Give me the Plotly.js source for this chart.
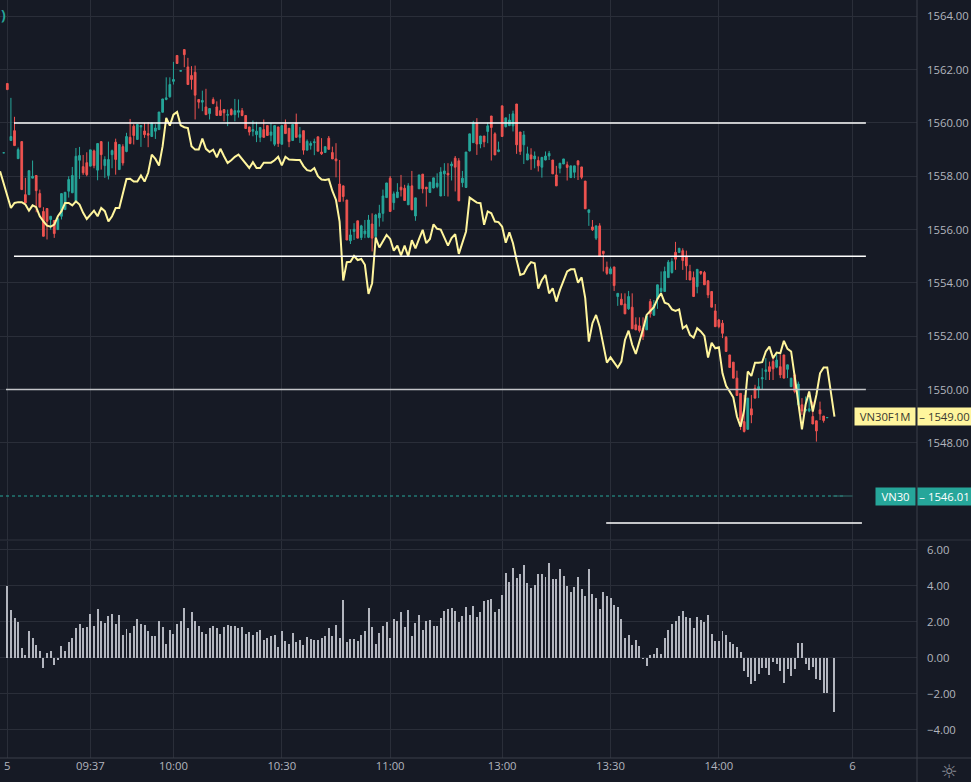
<!DOCTYPE html>
<html><head><meta charset="utf-8">
<script src="https://cdn.plot.ly/plotly-3.0.1.min.js"></script>
<style>html,body{margin:0;padding:0;background:#161a25;overflow:hidden}#c{width:971px;height:782px}</style>
</head><body><div id="c"></div>
<script>
// Candles start at bar index -1
const candleOpen=[1558.88,
1561.48,1559.34,1559.71,1558.66,1559.30,1557.31,1557.31,1557.93,1558.03,1557.35,
1556.68,1556.79,1556.38,1556.34,1556.00,1556.50,1556.75,1557.44,1557.38,1557.06,
1558.60,1558.36,1558.51,1558.38,1558.95,1558.23,1559.30,1558.40,1558.03,1558.81,
1559.28,1558.25,1559.11,1558.93,1559.46,1559.88,1559.38,1559.85,1559.70,1559.60,
1559.49,1559.69,1559.75,1560.40,1560.88,1560.98,1561.56,1562.53,1561.94,1562.75,
1562.10,1561.78,1561.90,1560.88,1560.78,1560.60,1560.35,1560.88,1560.60,1560.46,
1560.50,1560.29,1560.50,1560.31,1560.40,1560.46,1560.28,1559.85,1559.69,1559.56,
1559.46,1559.75,1559.90,1559.54,1559.20,1559.85,1559.20,1559.94,1559.80,1559.34,
1560.00,1559.46,1559.71,1558.98,1559.16,1559.26,1559.48,1558.91,1558.89,1559.43,
1558.89,1558.65,1557.71,1557.64,1557.11,1555.58,1555.93,1556.33,1555.70,1555.84,
1555.71,1556.21,1555.74,1556.44,1556.61,1557.20,1557.93,1557.01,1557.20,1557.59,
1557.55,1556.93,1557.64,1556.51,1557.53,1558.08,1557.59,1557.39,1557.56,1557.61,
1557.26,1558.09,1558.11,1558.39,1558.68,1558.58,1557.76,1557.58,1558.95,1559.26,
1559.99,1559.21,1559.51,1559.68,1560.26,1559.59,1558.93,1560.64,1559.86,1559.90,
1559.89,1560.71,1559.66,1559.18,1558.61,1558.80,1558.65,1558.59,1558.34,1558.61,
1558.76,1558.61,1558.05,1558.30,1558.46,1558.43,1557.95,1558.15,1558.58,1558.35,
1557.82,1556.64,1556.10,1555.68,1556.14,1555.19,1554.59,1554.34,1554.60,1553.49,
1553.39,1553.21,1553.03,1553.09,1552.43,1552.39,1552.30,1552.24,1553.30,1552.79,
1553.39,1553.68,1553.68,1554.20,1554.39,1555.15,1555.14,1555.21,1555.01,1554.43,
1554.20,1553.86,1554.43,1554.39,1554.08,1553.68,1552.95,1552.61,1552.49,1551.96,
1551.30,1551.03,1550.43,1549.86,1548.80,1548.51,1549.28,1550.05,1550.01,1550.40,
1550.68,1550.86,1551.05,1550.84,1550.86,1551.30,1550.76,1550.11,1550.55,1549.43,
1549.43,1549.21,1549.20,1548.99,1548.83,1549.24,1549.01,1548.95];
const candleClose=[1558.88,
1561.25,1559.49,1559.15,1559.00,1557.50,1557.00,1558.21,1558.00,1557.46,1556.84,
1555.75,1556.31,1556.50,1555.85,1556.41,1557.35,1557.40,1557.88,1558.03,1558.75,
1558.78,1558.13,1558.06,1558.99,1558.40,1559.23,1558.81,1558.63,1558.63,1558.96,
1558.63,1559.19,1558.50,1559.49,1559.23,1559.53,1559.94,1559.90,1559.56,1559.54,
1560.00,1559.81,1560.41,1560.90,1560.94,1561.44,1561.63,1562.23,1561.96,1562.56,
1561.44,1561.63,1561.04,1560.78,1560.84,1560.31,1560.54,1560.73,1560.28,1560.28,
1560.38,1560.31,1560.31,1560.46,1560.46,1560.28,1559.79,1559.66,1559.75,1559.69,
1559.83,1559.46,1559.53,1559.66,1559.90,1559.23,1559.90,1559.60,1559.30,1559.94,
1559.46,1559.56,1558.98,1559.31,1559.23,1559.29,1558.94,1558.84,1559.11,1559.01,
1558.65,1558.58,1557.05,1557.24,1555.61,1555.80,1556.01,1555.68,1556.14,1555.95,
1556.36,1555.68,1556.55,1556.61,1557.26,1557.75,1556.68,1557.34,1557.41,1557.49,
1557.09,1557.64,1556.74,1557.19,1558.05,1557.53,1557.53,1557.78,1557.94,1557.74,
1558.16,1558.20,1558.05,1558.46,1558.34,1557.08,1557.93,1558.91,1559.59,1559.99,
1559.21,1559.51,1559.29,1559.89,1559.83,1558.80,1558.99,1559.49,1560.19,1560.11,
1560.34,1559.18,1558.93,1559.55,1558.84,1558.65,1558.76,1558.39,1558.71,1558.76,
1558.86,1558.09,1557.64,1558.49,1558.65,1558.33,1558.39,1558.39,1558.43,1557.96,
1556.78,1556.74,1555.99,1556.14,1555.01,1555.10,1554.36,1554.53,1553.90,1553.61,
1553.18,1552.84,1553.49,1552.28,1552.24,1552.21,1551.99,1552.76,1552.84,1553.18,
1553.93,1553.80,1554.43,1554.78,1554.80,1554.89,1555.30,1554.84,1554.64,1554.11,
1553.49,1554.51,1554.36,1553.93,1553.55,1553.09,1552.36,1552.36,1552.11,1551.43,
1550.83,1550.43,1549.78,1548.86,1548.43,1549.68,1549.05,1549.68,1550.11,1550.45,
1550.74,1550.68,1550.78,1551.11,1550.55,1550.43,1550.93,1550.43,1549.93,1550.21,
1549.20,1549.26,1549.28,1548.71,1548.45,1549.09,1548.84,1548.95];
const candleHigh=[1558.88,
1561.48,1560.94,1560.23,1559.08,1559.30,1557.94,1558.21,1558.59,1558.03,1557.50,
1556.84,1556.79,1556.50,1556.34,1556.41,1557.35,1557.40,1558.00,1558.35,1559.06,
1559.10,1558.80,1558.90,1558.99,1559.00,1559.23,1559.30,1558.75,1559.30,1559.00,
1559.41,1559.19,1559.20,1559.63,1560.15,1559.95,1559.94,1559.92,1560.00,1560.03,
1560.00,1559.95,1560.41,1560.90,1561.71,1561.71,1562.29,1562.53,1561.96,1562.75,
1562.44,1562.13,1562.15,1560.88,1561.21,1561.28,1560.54,1560.96,1560.81,1560.88,
1560.50,1560.50,1560.55,1560.90,1560.88,1560.56,1560.28,1559.85,1560.09,1560.04,
1559.83,1560.13,1559.90,1560.00,1559.90,1559.85,1559.90,1560.13,1559.80,1559.94,
1560.35,1559.85,1559.71,1559.38,1559.31,1559.41,1559.48,1559.43,1559.11,1559.51,
1559.11,1559.24,1558.61,1557.64,1557.11,1556.01,1556.24,1556.33,1556.18,1556.36,
1556.55,1556.61,1556.59,1556.93,1557.50,1557.75,1558.01,1557.43,1557.74,1558.05,
1557.68,1557.74,1558.20,1557.19,1558.05,1558.08,1557.59,1557.78,1557.94,1558.11,
1558.34,1558.49,1558.49,1558.55,1558.76,1558.68,1558.20,1558.91,1559.59,1560.08,
1560.18,1559.51,1559.51,1560.01,1560.26,1559.65,1559.30,1560.64,1560.19,1560.34,
1560.46,1560.71,1559.66,1559.70,1559.11,1559.05,1558.93,1558.74,1558.71,1558.93,
1558.95,1558.61,1558.39,1558.49,1558.65,1558.55,1558.39,1558.39,1558.58,1558.35,
1557.82,1556.74,1556.36,1556.14,1556.24,1555.19,1554.80,1554.61,1554.60,1553.61,
1553.61,1553.61,1553.70,1553.61,1552.71,1552.71,1552.71,1552.76,1553.40,1553.36,
1553.93,1554.43,1554.61,1554.86,1554.93,1555.54,1555.30,1555.30,1555.21,1554.68,
1554.43,1554.51,1554.45,1554.45,1554.10,1553.68,1553.21,1552.65,1552.61,1552.01,
1551.30,1551.03,1550.71,1549.86,1549.80,1549.68,1549.80,1550.18,1550.43,1550.80,
1551.18,1551.05,1551.30,1551.36,1551.30,1551.30,1550.93,1550.43,1550.61,1550.30,
1549.68,1549.74,1549.74,1549.55,1548.83,1549.55,1549.01,1548.95];
const candleLow=[1558.88,
1561.25,1559.34,1559.15,1558.66,1557.50,1557.00,1557.31,1557.93,1556.65,1556.84,
1555.75,1555.63,1556.00,1555.69,1556.00,1556.38,1556.75,1557.20,1557.38,1557.06,
1557.90,1558.05,1558.00,1558.38,1558.30,1557.85,1558.25,1557.94,1557.88,1558.30,
1558.06,1558.25,1558.40,1558.90,1559.20,1559.19,1559.38,1559.10,1559.44,1559.09,
1559.49,1559.40,1559.75,1560.40,1560.85,1560.95,1561.44,1562.23,1561.94,1562.09,
1561.44,1561.25,1560.13,1560.54,1560.44,1560.31,1560.13,1560.70,1560.28,1560.28,
1560.06,1559.88,1560.28,1560.06,1560.20,1560.25,1559.79,1559.53,1559.50,1559.28,
1559.28,1559.46,1559.53,1559.31,1559.13,1559.10,1559.20,1559.60,1559.09,1559.34,
1559.46,1559.25,1558.81,1558.98,1559.00,1558.79,1558.94,1558.80,1558.89,1559.00,
1558.65,1557.96,1557.05,1557.05,1555.61,1555.46,1555.61,1555.68,1555.61,1555.68,
1555.68,1555.18,1555.61,1556.11,1556.30,1557.20,1556.68,1556.74,1557.18,1557.24,
1557.08,1556.93,1556.74,1556.33,1557.53,1557.36,1556.86,1557.39,1557.55,1557.55,
1557.26,1557.26,1557.24,1557.84,1557.43,1557.08,1557.59,1557.58,1558.93,1559.26,
1558.80,1559.05,1559.09,1559.24,1558.59,1558.80,1558.90,1559.49,1559.83,1559.88,
1559.68,1558.84,1558.80,1558.46,1558.61,1558.24,1558.30,1558.18,1557.95,1558.60,
1558.61,1558.09,1557.64,1558.11,1558.46,1557.84,1557.95,1557.93,1557.86,1557.89,
1556.78,1556.14,1555.95,1555.61,1555.01,1554.43,1554.30,1554.34,1553.70,1553.14,
1553.18,1552.84,1552.99,1552.28,1552.24,1552.14,1551.86,1552.24,1552.70,1552.76,
1553.03,1553.60,1553.68,1554.20,1554.35,1554.49,1555.14,1554.49,1554.11,1554.11,
1553.49,1553.61,1554.30,1553.93,1553.43,1553.09,1552.36,1552.30,1551.93,1551.43,
1550.83,1550.43,1549.78,1548.49,1548.39,1548.51,1548.74,1549.68,1549.68,1550.01,
1550.36,1550.36,1550.36,1550.80,1550.43,1550.43,1550.43,1550.10,1549.86,1549.43,
1549.05,1549.15,1549.15,1548.71,1548.05,1548.86,1548.76,1548.95];
// VN30 index line, starts at bar index -2
const indexLine=[1558.19,1557.75,
1557.31,1556.81,1557.00,1557.03,1557.03,1556.94,1556.71,1556.91,1556.84,1556.50,
1556.31,1556.15,1556.11,1556.19,1556.50,1556.69,1557.00,1557.00,1556.91,1557.06,
1556.94,1556.63,1556.40,1556.56,1556.71,1556.50,1556.81,1556.69,1556.31,1556.50,
1556.81,1556.81,1557.31,1557.90,1557.91,1557.80,1557.80,1558.03,1557.80,1558.13,
1558.81,1558.65,1558.40,1559.13,1560.19,1559.90,1560.31,1560.41,1559.91,1559.84,
1559.81,1559.13,1559.00,1559.00,1559.41,1559.03,1558.91,1559.00,1558.71,1559.03,
1558.75,1558.50,1558.60,1558.73,1558.81,1558.63,1558.48,1558.31,1558.53,1558.31,
1558.31,1558.51,1558.51,1558.51,1558.60,1558.73,1558.41,1558.73,1558.63,1558.61,
1558.61,1558.61,1558.38,1558.23,1558.20,1558.31,1558.00,1557.88,
1557.86,1557.89,1557.45,1557.11,1556.30,1554.09,1554.78,1554.79,1555.01,1554.86,1554.90,1554.68,
1553.59,1553.99,1555.70,1555.33,1555.55,1555.80,1555.65,1555.21,1555.40,1555.03,
1555.40,1554.99,1555.60,1555.30,1555.65,1555.99,1555.49,1555.65,1556.20,1556.03,
1556.00,1555.68,1555.40,1555.68,1555.83,1555.09,1555.49,1555.93,1557.20,1557.11,
1557.01,1556.99,1556.18,1556.68,1556.61,1556.30,1556.28,1556.11,1555.51,1555.90,
1555.49,1554.86,1554.30,1554.35,1554.61,1554.78,1554.74,1553.79,1554.11,1554.30,
1553.61,1553.80,1553.30,1553.74,1554.11,1554.43,1554.51,1554.51,1554.01,1554.21,
1553.43,1551.80,1552.49,1552.80,1552.36,
1551.61,1551.01,1551.21,1551.03,1550.83,1551.05,1551.86,1552.21,1551.68,1551.34,
1551.76,1552.26,1552.80,1552.93,1553.09,1553.40,1553.61,1553.26,1553.21,1553.01,
1552.95,1553.01,1552.30,1552.40,1552.05,1551.95,1552.30,1552.18,1552.01,1551.20,
1551.76,1551.55,1551.59,1550.61,1550.14,1549.93,1549.70,1548.99,1548.61,1549.24,
1550.68,1550.51,1551.01,1551.01,1551.03,1551.43,1551.61,1551.18,1551.39,1551.36,
1551.83,1551.53,1551.43,1550.49,1549.49,1548.51,1549.43,1549.93,1549.18,1549.80,
1550.61,1550.83,1550.83,1549.86,1548.99];
// Basis histogram, starts at bar index 0
const basisBars=[3.98,2.65,2.19,1.98,.54,.15,1.48,1.09,.70,.37,
-.56,.24,.37,-.41,-.13,.65,.37,.87,1.09,1.65,
1.87,1.65,1.70,2.43,1.76,2.70,2.04,1.93,2.31,2.43,
1.87,2.37,1.26,1.59,1.37,1.76,2.15,1.87,1.81,1.48,
1.20,1.20,2.04,1.70,.76,1.54,1.31,1.87,2.04,2.76,
1.65,2.54,2.04,1.76,1.43,1.31,1.65,1.76,1.65,1.31,
1.70,1.81,1.76,1.76,1.65,1.70,1.31,1.43,1.26,1.43,
1.54,.98,1.09,1.20,1.26,.59,1.48,.93,.76,1.37,
.87,.98,.70,1.15,1.04,.98,.98,1.09,1.20,1.65,
1.20,1.81,1.09,3.20,.87,1.04,1.04,.93,1.26,1.48,
2.76,1.70,.76,1.37,1.76,1.98,1.09,2.15,2.04,2.54,
1.70,2.65,1.20,1.93,2.37,1.54,2.04,2.09,
1.76,1.76,2.19,2.59,2.70,2.76,2.59,1.98,2.31,2.81,
2.37,2.87,2.26,2.54,3.15,3.20,3.26,2.54,2.70,3.48,
4.70,4.20,4.98,4.43,4.65,5.15,4.15,3.87,4.04,4.65,
4.65,4.48,5.26,4.37,4.37,4.93,4.54,3.98,3.65,3.93,
4.48,3.81,3.43,4.93,3.54,3.31,2.70,3.65,3.43,3.31,
2.93,2.81,2.15,1.09,1.26,.70,.98,.65,-.07,-.46,
.15,.20,.54,.20,1.09,1.54,1.87,2.04,2.31,2.59,
2.26,2.20,1.65,2.26,2.09,1.98,2.37,1.31,.93,.93,
1.48,1.26,.87,.76,.59,.31,-.74,-1.07,-1.46,-1.30,
-.91,-.57,-.57,-.96,-.24,-.35,-.74,-1.41,-.63,-1.02,
-.63,.81,.81,-.35,-.69,-.52,-1.19,-1.24,-1.96,-1.96,
null,-3.02];
const timeTickBars=[0,23,46,76,106,137,167,197,234];
const timeTickLabels=['5','09:37','10:00','10:30','11:00','13:00','13:30','14:00','6'];
const priceTicks=[1548,1550,1552,1554,1556,1558,1560,1562,1564];
const basisTicks=[-4,-2,0,2,4,6];
const levelWhite1=[1560,1560], levelWhite1Bars=[1.85,237.7];
const levelWhite2=[1555,1555], levelWhite2Bars=[1.85,237.7];
const levelGrey=[1550,1550], levelGreyBars=[-0.36,237.7];
const levelLow=[1545,1545], levelLowBars=[165.8,236.6];
const vn30Last=1546.01, futLast=1549.00;
const vn30Dash=[1546.01,1546.01], vn30DashBars=[228.5,234];

const GRID='#2a2e39',BG='#161a25',TXT='#b2b5be',TEAL='#26a69a',RED='#ef5350',YEL='#fff59d';
const FONT='"Open Sans", sans-serif', FS=11.3;
const ix=(a,s)=>a.map((_,i)=>i+s);
const level=(x,y,c,w)=>({type:'scatter',mode:'lines',x:x,y:y,xaxis:'x',yaxis:'y',line:{color:c,width:w},hoverinfo:'skip',showlegend:false});
const data=[
 {type:'scatter',mode:'lines',x:[-2.02,232],y:[vn30Last,vn30Last],line:{color:TEAL,width:1,dash:'dot'},hoverinfo:'skip',showlegend:false},
 level(vn30DashBars,vn30Dash,'#2f6f6c',1),
 {type:'candlestick',x:ix(candleOpen,-1),open:candleOpen,high:candleHigh,low:candleLow,close:candleClose,
  increasing:{line:{color:TEAL,width:1},fillcolor:TEAL},decreasing:{line:{color:RED,width:1},fillcolor:RED},
  whiskerwidth:0,hoverinfo:'skip',showlegend:false},
 {type:'scatter',mode:'lines',x:ix(indexLine,-2),y:indexLine,line:{color:YEL,width:2},hoverinfo:'skip',showlegend:false},
 level(levelWhite1Bars,levelWhite1,'#ffffff',1.6),
 level(levelWhite2Bars,levelWhite2,'#ffffff',1.3),
 level(levelGreyBars,levelGrey,'#c4c5c9',1.5),
 level(levelLowBars,levelLow,'#ffffff',1.6),
 {type:'bar',x:ix(basisBars,0),y:basisBars,yaxis:'y2',width:0.55,marker:{color:'#b2b5be',line:{width:0}},hoverinfo:'skip',showlegend:false}
];
const tag=(x,yv,w,txt,bg,col)=>({xref:'paper',yref:'y',x:x/917,y:yv,xanchor:'center',yanchor:'middle',text:txt,showarrow:false,
  width:w,height:17,bgcolor:bg,font:{family:FONT,size:FS,color:col},borderpad:0});
const layout={width:971,height:782,paper_bgcolor:BG,plot_bgcolor:BG,margin:{l:0,r:54,t:0,b:24,pad:0},showlegend:false,boxgap:0.32,
 bargap:0,font:{family:FONT,size:FS,color:TXT},
 xaxis:{range:[-2.02,251.85],anchor:'y2',tickmode:'array',tickvals:timeTickBars,ticktext:timeTickLabels,showgrid:true,gridcolor:GRID,gridwidth:1,
  zeroline:false,showline:false,ticks:'',tickfont:{family:FONT,size:FS,color:TXT},rangeslider:{visible:false},tickangle:0},
 yaxis:{domain:[218/758,1],range:[1544.36,1564.61],side:'right',tickmode:'array',tickvals:priceTicks,tickformat:'.2f',showgrid:true,gridcolor:GRID,gridwidth:1,
  zeroline:false,showline:false,ticks:'',ticklabelposition:'outside',ticklabelstandoff:9,tickfont:{family:FONT,size:FS,color:TXT},anchor:'x'},
 yaxis2:{domain:[0,217/758],range:[-5.57,6.48],side:'right',tickmode:'array',tickvals:basisTicks,tickformat:'.2f',showgrid:true,gridcolor:GRID,gridwidth:1,
  zeroline:false,showline:false,ticks:'',ticklabelstandoff:9,tickfont:{family:FONT,size:FS,color:TXT},anchor:'x'},
 shapes:[
  {type:'line',xref:'paper',yref:'paper',x0:0,x1:971/917,y0:218/758,y1:218/758,line:{color:'#2e323e',width:1}},
  {type:'line',xref:'paper',yref:'paper',x0:0,x1:971/917,y0:0,y1:0,line:{color:'#3a3e4a',width:1}},
  {type:'line',xref:'paper',yref:'paper',x0:1,x1:1,y0:-24/758,y1:1,line:{color:'#3a3e4a',width:1}}
 ],
 annotations:[
  tag(885,futLast,60,'VN30F1M','#fff59d','#3a3a30'),
  tag(944.5,futLast,53,'– 1549.00','#fff59d','#3a3a30'),
  tag(895.5,vn30Last,39,'VN30',TEAL,'#ffffff'),
  tag(944.5,vn30Last,53,'– 1546.01',TEAL,'#ffffff'),
  {xref:'paper',yref:'paper',x:948.5/917,y:-12.5/758,xanchor:'center',yanchor:'middle',text:'☼',showarrow:false,width:18,height:18,borderpad:0,font:{family:'DejaVu Sans',size:19,color:'#8a8d96'}},
  {xref:'paper',yref:'paper',x:0,y:1-14/758,xanchor:'left',yanchor:'middle',text:'<b>)</b>',showarrow:false,borderpad:0,font:{family:FONT,size:14,color:TEAL}}
 ]};
Plotly.newPlot('c',data,layout,{staticPlot:true,displayModeBar:false});
</script></body></html>
